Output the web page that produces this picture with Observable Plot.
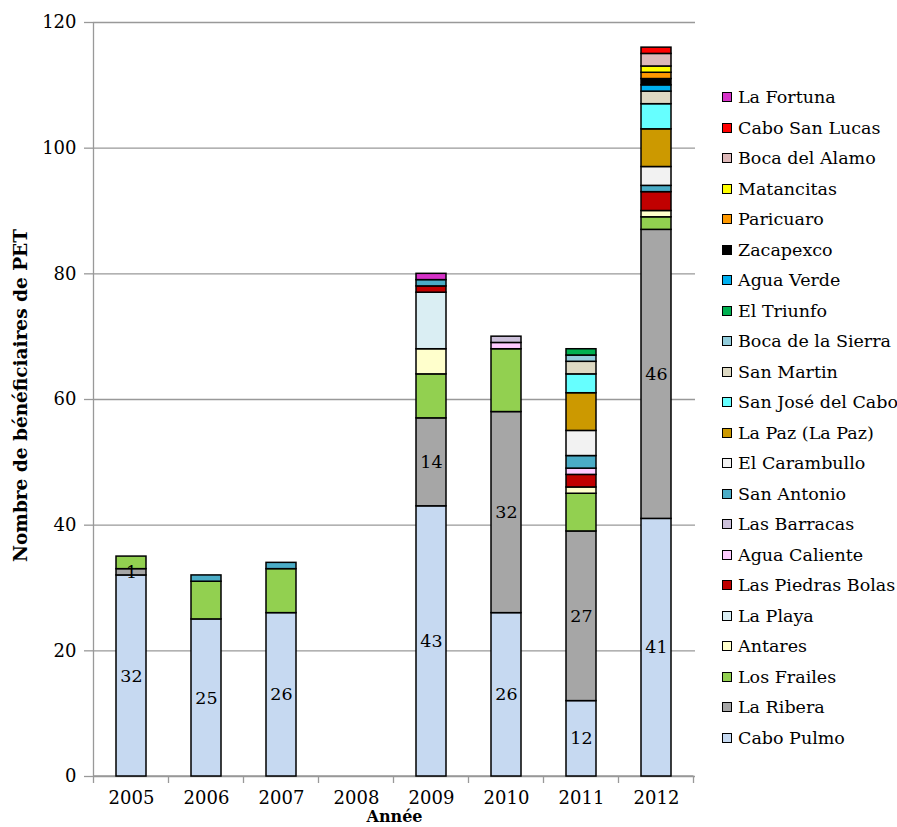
<!DOCTYPE html>
<html><head><meta charset="utf-8">
<script src="https://cdn.jsdelivr.net/npm/d3@7"></script>
<script src="https://cdn.jsdelivr.net/npm/@observablehq/plot@0.6"></script>
<style>
body{margin:0;background:#fff;}
#wrap{position:relative;width:897px;height:827px;overflow:hidden;background:#fff;}
#legend{position:absolute;left:722px;top:0;font-family:"DejaVu Serif";font-size:17.5px;color:#000;}
.item{position:absolute;left:0;white-space:nowrap;display:flex;align-items:center;height:20px;}
.sw{width:8px;height:8px;border:1.5px solid #000;margin-right:6px;flex:none;}
</style></head>
<body><div id="wrap"><div id="chart"></div><div id="legend"></div></div>
<script>
const years = ["2005","2006","2007","2008","2009","2010","2011","2012"];
const seriesNames = ["Cabo Pulmo","La Ribera","Los Frailes","Antares","La Playa","Las Piedras Bolas","Agua Caliente","Las Barracas","San Antonio","El Carambullo","La Paz (La Paz)","San José del Cabo","San Martin","Boca de la Sierra","El Triunfo","Agua Verde","Zacapexco","Paricuaro","Matancitas","Boca del Alamo","Cabo San Lucas","La Fortuna"];
const colors = ["#C6D9F1","#A6A6A6","#92D050","#FFFFCC","#DAEEF3","#C00000","#FFCCFF","#CCC0DA","#4BACC6","#F2F2F2","#CC9900","#66FFFF","#DDD9C3","#92CDDC","#00B050","#00B0F0","#000000","#FF9900","#FFFF00","#DDB8B8","#FF0000","#D633C8"];
const values = [
  [32,25,26,0,43,26,12,41], // Cabo Pulmo
  [1,0,0,0,14,32,27,46],    // La Ribera
  [2,6,7,0,7,10,6,2],       // Los Frailes
  [0,0,0,0,4,0,1,1],        // Antares
  [0,0,0,0,9,0,0,0],        // La Playa
  [0,0,0,0,1,0,2,3],        // Las Piedras Bolas
  [0,0,0,0,0,1,1,0],        // Agua Caliente
  [0,0,0,0,0,1,0,0],        // Las Barracas
  [0,1,1,0,1,0,2,1],        // San Antonio
  [0,0,0,0,0,0,4,3],        // El Carambullo
  [0,0,0,0,0,0,6,6],        // La Paz
  [0,0,0,0,0,0,3,4],        // San José del Cabo
  [0,0,0,0,0,0,2,2],        // San Martin
  [0,0,0,0,0,0,1,0],        // Boca de la Sierra
  [0,0,0,0,0,0,1,0],        // El Triunfo
  [0,0,0,0,0,0,0,1],        // Agua Verde
  [0,0,0,0,0,0,0,1],        // Zacapexco
  [0,0,0,0,0,0,0,1],        // Paricuaro
  [0,0,0,0,0,0,0,1],        // Matancitas
  [0,0,0,0,0,0,0,2],        // Boca del Alamo
  [0,0,0,0,0,0,0,1],        // Cabo San Lucas
  [0,0,0,0,1,0,0,0]         // La Fortuna
];
const labeledSeries = ["Cabo Pulmo","La Ribera"];
const yTicks = [0,20,40,60,80,100,120];
const yTitle = "Nombre de bénéficiaires de PET";
const xTitle = "Année";

const data = [];
seriesNames.forEach((s,i)=>values[i].forEach((v,j)=>{ if (v>0) data.push({year:years[j], series:s, value:v}); }));
const labels = data.filter(d=>labeledSeries.includes(d.series));

const plot = Plot.plot({
  width:897, height:827,
  marginLeft:93, marginRight:202, marginTop:22, marginBottom:51,
  style:{fontFamily:"DejaVu Serif", fontSize:"18px", background:"white", color:"black", overflow:"visible"},
  x:{domain:years, paddingInner:0.595, paddingOuter:0.2975, label:null},
  y:{domain:[0,120], label:null},
  color:{domain:seriesNames, range:colors},
  marks:[
    Plot.gridY(yTicks,{stroke:"#999", strokeOpacity:1, strokeWidth:1.3}),
    Plot.axisY(yTicks,{tickSize:9, tickPadding:8, stroke:"#999", strokeWidth:1.3, fontSize:18, label:null}),
    Plot.axisX({tickSize:0, tickPadding:15, fontSize:18, label:null}),
    Plot.barY(data,{x:"year", y:"value", z:"series", fill:"series", stroke:"black", strokeWidth:1.5}),
    Plot.text(labels, Plot.stackY({x:"year", y:"value", z:"series", text:d=>String(d.value), fontSize:17.5, fill:"black"})),
    Plot.text([yTitle],{frameAnchor:"left", textAnchor:"middle", dx:-72, dy:-4, rotate:-90, fontWeight:"bold", fontSize:18.5, fill:"black"}),
    Plot.text([xTitle],{frameAnchor:"bottom", textAnchor:"middle", dy:34, lineAnchor:"top", fontWeight:"bold", fontSize:16, fill:"black"})
  ]
});
document.getElementById("chart").appendChild(plot);

// boundary ticks and left axis line from the plot's own scales
const xs = plot.scale("x"), ys = plot.scale("y");
const step = xs.apply(years[1]) - xs.apply(years[0]);
const bw = xs.bandwidth;
const bounds = years.map(y => xs.apply(y) + bw/2 - step/2);
bounds.push(xs.apply(years[years.length-1]) + bw/2 + step/2);
const svg = d3.select(plot);
const y0 = ys.apply(0), yTop = ys.apply(120);
const g = svg.insert("g", "g[aria-label='bar']").attr("stroke","#999").attr("stroke-width",1.3);
g.selectAll("line.t").data(bounds).join("line").attr("class","t")
  .attr("x1",d=>d).attr("x2",d=>d).attr("y1",y0).attr("y2",y0+7);
g.append("line").attr("x1",bounds[0]).attr("x2",bounds[0]).attr("y1",yTop).attr("y2",y0);
g.append("line").attr("x1",bounds[0]).attr("x2",bounds[bounds.length-1]).attr("y1",y0).attr("y2",y0);

// legend
const legend = document.getElementById("legend");
seriesNames.slice().reverse().forEach((s,i)=>{
  const idx = seriesNames.indexOf(s);
  const it = document.createElement("div");
  it.className = "item";
  it.style.top = (97 + i*30.5 - 10) + "px";
  it.innerHTML = `<span class="sw" style="background:${colors[idx]}"></span><span>${s}</span>`;
  legend.appendChild(it);
});
</script></body></html>
